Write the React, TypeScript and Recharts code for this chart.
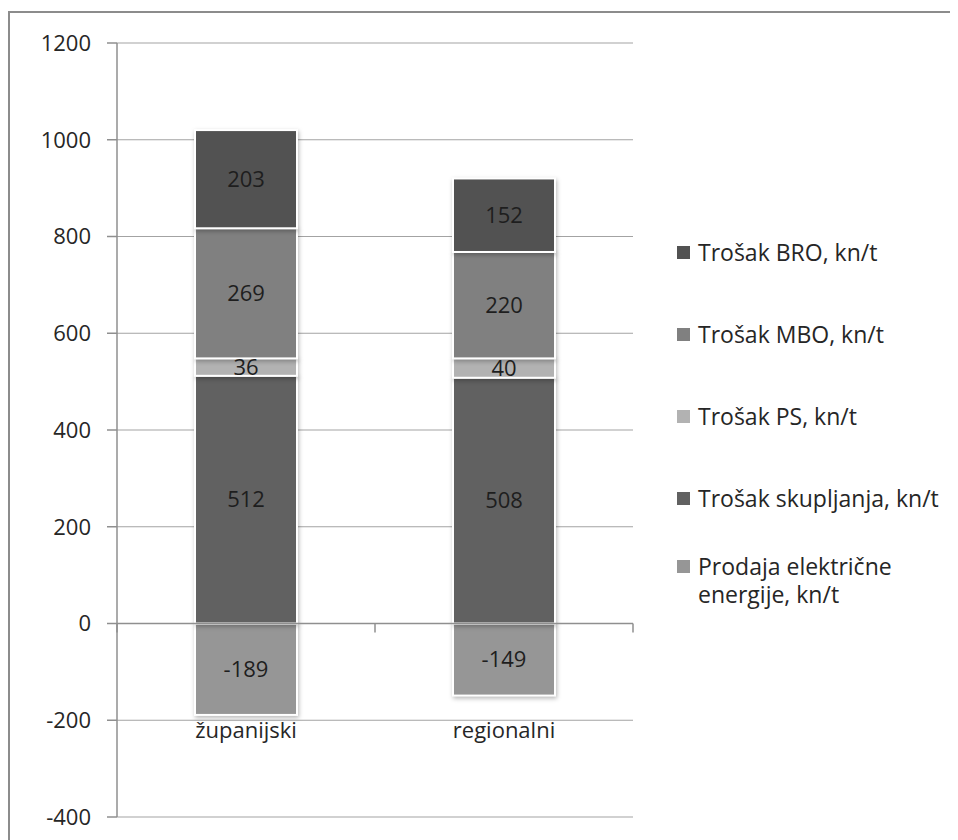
import React from 'react';
import { BarChart, Bar, XAxis, YAxis, CartesianGrid, ReferenceLine, LabelList } from 'recharts';

const categories = ['županijski', 'regionalni'];
const prodaja = [-189, -149];
const skupljanje = [512, 508];
const ps = [36, 40];
const mbo = [269, 220];
const bro = [203, 152];
const yTicks = [-400, -200, 0, 200, 400, 600, 800, 1000, 1200];

const series = [
  { key: 'prodaja', name: 'Prodaja električne energije, kn/t', color: '#969696' },
  { key: 'skupljanje', name: 'Trošak skupljanja, kn/t', color: '#616161' },
  { key: 'ps', name: 'Trošak PS, kn/t', color: '#b2b2b2' },
  { key: 'mbo', name: 'Trošak MBO, kn/t', color: '#808080' },
  { key: 'bro', name: 'Trošak BRO, kn/t', color: '#525252' },
];

const data = categories.map((c, i) => ({
  name: c,
  prodaja: prodaja[i],
  skupljanje: skupljanje[i],
  ps: ps[i],
  mbo: mbo[i],
  bro: bro[i],
}));

const FONT = '"Open Sans", sans-serif';
const AXIS = '#8f8f8f';

const BarShape = (props: any) => {
  const { x, y, width, height, fill } = props;
  if (width == null || height == null) return null;
  const yy = height < 0 ? y + height : y;
  const h = Math.abs(height);
  return (
    <rect
      x={x}
      y={yy}
      width={width}
      height={h}
      fill={fill}
      stroke="#ffffff"
      strokeWidth={2}
      style={{ filter: 'drop-shadow(1px 2px 2px rgba(0,0,0,0.28))' }}
    />
  );
};

const ZeroAxis = (props: any) => {
  const { x1, x2, y1 } = props;
  if (x1 == null || x2 == null || y1 == null) return null;
  const mid = (x1 + x2) / 2;
  return (
    <g>
      <line x1={x1} x2={x2} y1={y1} y2={y1} stroke={AXIS} strokeWidth={1.5} />
      {[x1, mid, x2].map((x, i) => (
        <line key={i} x1={x} x2={x} y1={y1} y2={y1 + 9} stroke={AXIS} strokeWidth={1.5} />
      ))}
    </g>
  );
};

const CatTick = (props: any) => {
  const { x, y, payload } = props;
  return (
    <text x={x} y={y - 79} textAnchor="middle" fontFamily={FONT} fontSize={22} fill="#262626">
      {payload.value}
    </text>
  );
};

const legendOrder = ['bro', 'mbo', 'ps', 'skupljanje', 'prodaja'];

const LegendBox = () => (
  <div
    style={{
      position: 'absolute',
      left: 669,
      top: 203,
      width: 280,
      fontFamily: FONT,
      fontSize: 23,
      color: '#262626',
    }}
  >
    {legendOrder.map((k) => {
      const s = series.find((q) => q.key === k)!;
      return (
        <div key={k} style={{ height: 82, display: 'flex', alignItems: 'center' }}>
          <div style={{ position: 'relative', paddingLeft: 21, lineHeight: '28px', width: 250 }}>
            <span
              style={{
                position: 'absolute',
                left: 0,
                top: 8,
                width: 13,
                height: 13,
                background: s.color,
              }}
            />
            {s.name}
          </div>
        </div>
      );
    })}
  </div>
);

export default function App() {
  return (
    <div style={{ position: 'relative', width: 950, height: 832 }}>
      <div
        style={{
          position: 'absolute',
          left: 0,
          top: 3,
          width: 946,
          height: 827,
          borderTop: '2px solid #8c8c8c',
          borderLeft: '2px solid #8c8c8c',
        }}
      />
      <div style={{ position: 'absolute', left: 0, top: 0 }}>
        <BarChart
          width={950}
          height={832}
          data={data}
          stackOffset="sign"
          margin={{ top: 35, right: 325, bottom: 0, left: 49 }}
        >
          <CartesianGrid vertical={false} stroke="#a3a3a3" strokeWidth={1.2} />
          <XAxis
            dataKey="name"
            height={23}
            axisLine={false}
            tickLine={false}
            tickSize={0}
            tickMargin={0}
            tick={<CatTick />}
            interval={0}
          />
          <YAxis
            width={60}
            domain={[-400, 1200]}
            ticks={yTicks}
            interval={0}
            tickSize={10}
            tickMargin={16}
            axisLine={{ stroke: AXIS, strokeWidth: 1.5 }}
            tickLine={{ stroke: AXIS, strokeWidth: 1.5 }}
            tick={{ fontFamily: FONT, fontSize: 22, fill: '#262626' }}
          />
          <ReferenceLine y={0} shape={<ZeroAxis />} />
          {series.map((s) => (
            <Bar
              key={s.key}
              dataKey={s.key}
              name={s.name}
              stackId="a"
              fill={s.color}
              barSize={102}
              shape={<BarShape />}
              isAnimationActive={false}
            >
              <LabelList
                dataKey={s.key}
                position="center"
                fill="#1e1e1e"
                fontFamily={FONT}
                fontSize={22}
              />
            </Bar>
          ))}
        </BarChart>
      </div>
      <LegendBox />
    </div>
  );
}
